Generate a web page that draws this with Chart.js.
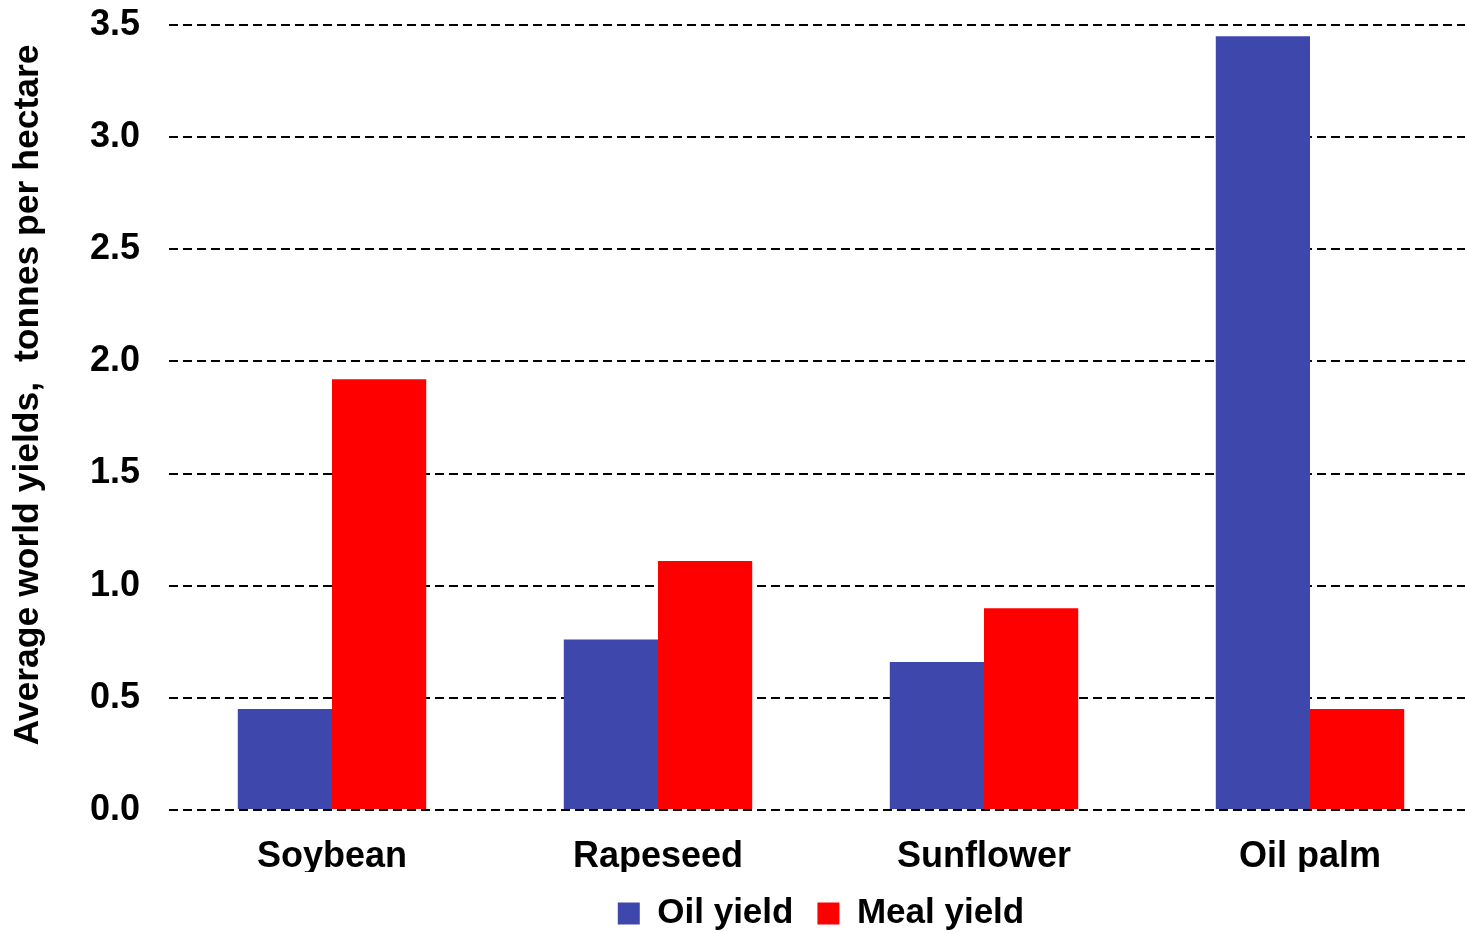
<!DOCTYPE html>
<html>
<head>
<meta charset="utf-8">
<script src="https://cdn.jsdelivr.net/npm/chart.js@4"></script>
<style>
  html, body { margin: 0; padding: 0; background: #fff; overflow: hidden; }
  #wrap { width: 1473px; height: 941px; }
</style>
</head>
<body>
<div id="wrap"><canvas id="c" width="1473" height="941"></canvas></div>
<script>
// Average world yields per crop, tonnes per hectare
const categories = ['Soybean', 'Rapeseed', 'Sunflower', 'Oil palm'];
const oilYield = [0.45, 0.76, 0.66, 3.45];
const mealYield = [1.92, 1.11, 0.90, 0.45];
const yTicks = [0, 0.5, 1.0, 1.5, 2.0, 2.5, 3.0, 3.5];
const yTitle = 'Average world yields,  tonnes per hectare';

const FONT = "'Liberation Sans', Arial, sans-serif";

// rotated y-axis caption
const yTitlePlugin = {
  id: 'yTitle',
  afterDraw(chart) {
    const ctx = chart.ctx;
    ctx.save();
    ctx.translate(28, 395);
    ctx.rotate(-Math.PI / 2);
    ctx.font = 'bold 35.5px ' + FONT;
    ctx.fillStyle = '#000';
    ctx.textAlign = 'center';
    ctx.textBaseline = 'middle';
    ctx.fillText(yTitle, 0, 0);
    ctx.restore();
  }
};

new Chart(document.getElementById('c'), {
  type: 'bar',
  data: {
    labels: categories,
    datasets: [
      { label: 'Oil yield', data: oilYield, backgroundColor: '#3E47AB', borderWidth: 0 },
      { label: 'Meal yield', data: mealYield, backgroundColor: '#FF0000', borderWidth: 0 }
    ]
  },
  options: {
    responsive: false,
    animation: false,
    devicePixelRatio: 1,
    layout: { padding: { top: 25, right: 0, bottom: 0, left: 0 } },
    datasets: { bar: { categoryPercentage: 0.578, barPercentage: 1.0 } },
    plugins: {
      tooltip: { enabled: false },
      legend: {
        position: 'bottom',
        fullSize: false,
        labels: {
          boxWidth: 22,
          boxHeight: 22,
          padding: 24,
          color: '#000',
          font: { family: FONT, size: 35, weight: 'bold' }
        }
      }
    },
    scales: {
      x: {
        afterFit(scale) { scale.height = 62; },
        grid: { display: false, drawTicks: false },
        border: { display: false },
        ticks: {
          color: '#000',
          padding: 25,
          font: { family: FONT, size: 36, weight: 'bold' }
        }
      },
      y: {
        min: 0,
        max: 3.5,
        afterFit(scale) {
          scale.width = 169;
          scale.paddingTop = 0;
          scale.paddingBottom = 0;
        },
        afterBuildTicks(scale) { scale.ticks = yTicks.map(v => ({ value: v })); },
        grid: { color: '#000', lineWidth: 2, drawTicks: false },
        border: { display: false, dash: [9, 5] },
        ticks: {
          color: '#000',
          padding: 29,
          font: { family: FONT, size: 36, weight: 'bold' },
          callback: v => Number(v).toFixed(1)
        }
      }
    }
  },
  plugins: [yTitlePlugin]
});
</script>
</body>
</html>
